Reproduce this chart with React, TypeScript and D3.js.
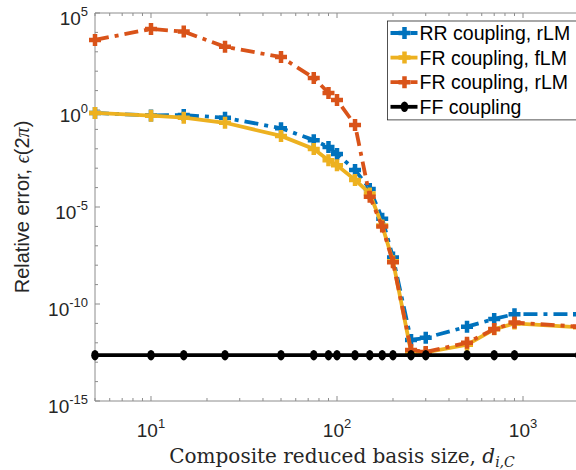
import React from "react";
import * as d3 from "d3";

const xValues = [5, 10, 15, 25, 50, 75, 90, 100, 125, 150, 175, 200, 250, 300, 500, 700, 900, 2000];
const rrCouplingRLM = [0.71, 0.52, 0.55, 0.40, 0.115, 0.028, 0.0123, 5.4e-3, 8.1e-4, 8.5e-5, 2.5e-6, 2.5e-8, 1.4e-12, 1.8e-12, 6.8e-12, 1.7e-11, 3.0e-11, 3.0e-11];
const frCouplingFLM = [0.71, 0.51, 0.40, 0.22, 0.046, 9.8e-3, 2.6e-3, 1.4e-3, 2.5e-4, 5.0e-5, 1.1e-6, 1.6e-8, 3.5e-13, 3.2e-13, 7.9e-13, 5.0e-12, 1.0e-11, 6.3e-12];
const frCouplingRLM = [4.1e3, 1.5e4, 1.1e4, 1.8e3, 540, 45, 7.6, 3.3, 0.17, 3.4e-5, 1.0e-6, 1.4e-8, 4.3e-13, 3.4e-13, 1.0e-12, 5.1e-12, 1.1e-11, 6.8e-12];
const ffCoupling = [2.3e-13, 2.3e-13, 2.3e-13, 2.3e-13, 2.3e-13, 2.3e-13, 2.3e-13, 2.3e-13, 2.3e-13, 2.3e-13, 2.3e-13, 2.3e-13, 2.3e-13, 2.3e-13, 2.3e-13, 2.3e-13, 2.3e-13, 2.3e-13];

const seriesNames = ["RR coupling, rLM", "FR coupling, fLM", "FR coupling, rLM", "FF coupling"];
const yTickValues = [1e-15, 1e-10, 1e-5, 1e0, 1e5];
const yTickExponents = ["-15", "-10", "-5", "0", "5"];
const xTickValues = [10, 100, 1000];
const xTickExponents = ["1", "2", "3"];

const W = 576, H = 470;
const left = 95, right = 579, top = 13, bottom = 401;
const sans = "'Liberation Sans', Arial, Helvetica, sans-serif";
const serif = "'DejaVu Serif', 'Liberation Serif', serif";
const axisColor = "#8c8c8c";

export default function App() {
  const x = d3.scaleLog().domain([5, 2000]).range([left, right]);
  const y = d3.scaleLog().domain([1e-15, 1e5]).range([bottom, top]);

  const series = [
    { name: seriesNames[0], values: rrCouplingRLM, color: "#0072BD", dash: "14 6 4 6", marker: "plus" },
    { name: seriesNames[1], values: frCouplingFLM, color: "#EDB120", dash: null, marker: "plus" },
    { name: seriesNames[2], values: frCouplingRLM, color: "#D95319", dash: "14 6 4 6", marker: "plus" },
    { name: seriesNames[3], values: ffCoupling, color: "#000000", dash: null, marker: "dot" },
  ];

  const line = d3.line<number>()
    .x((_, i) => x(xValues[i]))
    .y((v) => y(v));

  const xMinor: number[] = [];
  for (let dec = 1; dec <= 1000; dec *= 10) {
    for (let k = 2; k <= 9; k++) {
      const v = k * dec;
      if (v >= 5 && v <= 2000) xMinor.push(v);
    }
  }
  const yMinor: number[] = [];
  for (let e = -15; e <= 5; e++) {
    if (e % 5 !== 0) yMinor.push(Math.pow(10, e));
  }

  const marker = (kind: string, color: string, cx: number, cy: number, key: string) =>
    kind === "plus" ? (
      <path key={key} d={`M${cx - 6},${cy}H${cx + 6}M${cx},${cy - 6}V${cy + 6}`} stroke={color} strokeWidth={4.5} fill="none" />
    ) : (
      <ellipse key={key} cx={cx} cy={cy} rx={3.8} ry={5.2} fill={color} />
    );

  const legendLeft = 387.5, legendTop = 21, legendRow = 24.6;

  return (
    <svg width={W} height={H} style={{ position: "absolute", left: 0, top: 0, background: "#fff" }}>
      <defs>
        <clipPath id="plotclip">
          <rect x={left - 8} y={top - 8} width={right - left + 16} height={bottom - top + 16} />
        </clipPath>
      </defs>
      <rect x={0} y={0} width={W} height={H} fill="#fff" />
      <g stroke={axisColor} strokeWidth={1} fill="none">
        <line x1={left} y1={bottom} x2={right} y2={bottom} />
        <line x1={left} y1={top} x2={right} y2={top} />
        <line x1={left} y1={top} x2={left} y2={bottom} />
        <line x1={right} y1={top} x2={right} y2={bottom} />
        {xTickValues.map((v) => (
          <g key={"xt" + v}>
            <line x1={x(v)} x2={x(v)} y1={bottom} y2={bottom - 5} />
            <line x1={x(v)} x2={x(v)} y1={top} y2={top + 5} />
          </g>
        ))}
        {xMinor.map((v) => (
          <g key={"xm" + v}>
            <line x1={x(v)} x2={x(v)} y1={bottom} y2={bottom - 3} />
            <line x1={x(v)} x2={x(v)} y1={top} y2={top + 3} />
          </g>
        ))}
        {yTickValues.map((v) => (
          <line key={"yt" + v} x1={left} x2={left + 5} y1={y(v)} y2={y(v)} />
        ))}
        {yMinor.map((v) => (
          <line key={"ym" + v} x1={left} x2={left + 3} y1={y(v)} y2={y(v)} />
        ))}
      </g>
      <g fontFamily={sans} fill="#262626">
        {yTickValues.map((v, i) => (
          <text key={"yl" + v} x={left - 7} y={y(v) + 12} textAnchor="end" fontSize={19}>
            10<tspan dy={-9} fontSize={13}>{yTickExponents[i]}</tspan>
          </text>
        ))}
        {xTickValues.map((v, i) => (
          <text key={"xl" + v} x={x(v)} y={bottom + 36} textAnchor="middle" fontSize={19}>
            10<tspan dy={-9} fontSize={13}>{xTickExponents[i]}</tspan>
          </text>
        ))}
      </g>
      <g clipPath="url(#plotclip)">
        {series.map((s) => (
          <g key={s.name}>
            <path d={line(s.values) || ""} fill="none" stroke={s.color} strokeWidth={3.8} strokeDasharray={s.dash || undefined} />
            {s.values.map((v, i) => marker(s.marker, s.color, x(xValues[i]), y(v), s.name + i))}
          </g>
        ))}
      </g>
      <g>
        <rect x={legendLeft} y={legendTop} width={W - legendLeft + 10} height={legendRow * 4 + 0.5} fill="#fff" stroke="#262626" strokeWidth={0.8} />
        {series.map((s, i) => {
          const ly = legendTop + 12 + i * legendRow;
          return (
            <g key={"lg" + i}>
              <line x1={legendLeft + 3} x2={legendLeft + 30} y1={ly} y2={ly} stroke={s.color} strokeWidth={3.8} strokeDasharray={s.dash ? "11 3 3 3" : undefined} />
              {marker(s.marker, s.color, legendLeft + 17, ly, "lm" + i)}
              <text x={legendLeft + 32} y={ly + 7} fontFamily={sans} fontSize={19.5} fill="#000">{s.name}</text>
            </g>
          );
        })}
      </g>
      <text x={342} y={463} textAnchor="middle" fontFamily={serif} fontSize={20} fill="#262626">
        Composite reduced basis size, <tspan fontStyle="italic">d</tspan>
        <tspan dy={4} fontSize={14} fontStyle="italic">i,C</tspan>
      </text>
      <text transform={`translate(29,207) rotate(-90)`} textAnchor="middle" fontFamily={sans} fontSize={20} fill="#262626">
        Relative error, <tspan fontFamily="'Liberation Serif', serif" fontStyle="italic">ϵ</tspan>(2<tspan fontFamily="'Liberation Serif', serif" fontStyle="italic">π</tspan>)
      </text>
    </svg>
  );
}
